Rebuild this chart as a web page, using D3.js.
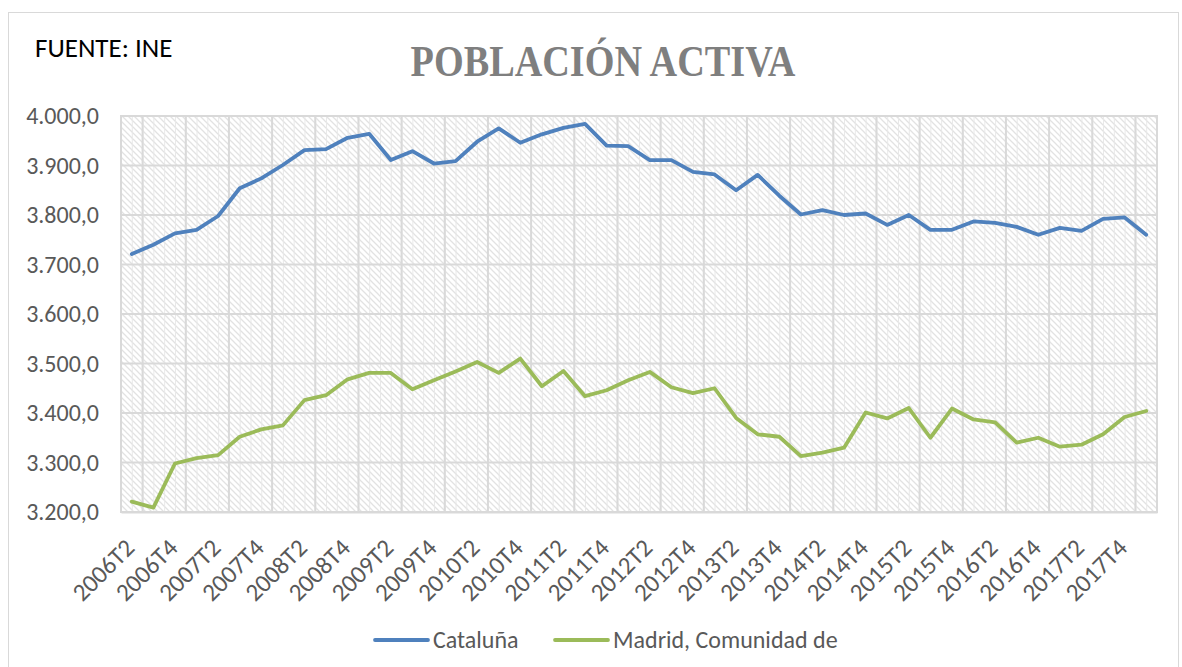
<!DOCTYPE html>
<html>
<head>
<meta charset="utf-8">
<script src="https://cdn.jsdelivr.net/npm/d3@7"></script>
<style>
  html, body { margin: 0; padding: 0; background: #fff; }
  svg { display: block; }
</style>
</head>
<body>
<svg id="chart" width="1182" height="667"></svg>
<script>
// ---------------- DATA ----------------
const quarters = [
  "2006T2","2006T3","2006T4",
  "2007T1","2007T2","2007T3","2007T4",
  "2008T1","2008T2","2008T3","2008T4",
  "2009T1","2009T2","2009T3","2009T4",
  "2010T1","2010T2","2010T3","2010T4",
  "2011T1","2011T2","2011T3","2011T4",
  "2012T1","2012T2","2012T3","2012T4",
  "2013T1","2013T2","2013T3","2013T4",
  "2014T1","2014T2","2014T3","2014T4",
  "2015T1","2015T2","2015T3","2015T4",
  "2016T1","2016T2","2016T3","2016T4",
  "2017T1","2017T2","2017T3","2017T4",
  "2018T1"
];
const cataluna = [
  3721, 3740, 3763,
  3770, 3798, 3854, 3874,
  3901, 3931, 3933, 3956,
  3964, 3911, 3929, 3904,
  3909, 3948, 3975, 3946,
  3963, 3976, 3984, 3940,
  3939, 3911, 3911, 3887,
  3882, 3850, 3881, 3839,
  3801, 3810, 3800, 3803,
  3780, 3800, 3770, 3770,
  3787, 3784, 3776, 3760,
  3774, 3768, 3792, 3795,
  3760
];
const madrid = [
  3221, 3209, 3298,
  3309, 3315, 3352, 3367,
  3375, 3426, 3436, 3468,
  3481, 3481, 3448, 3466,
  3484, 3503, 3481, 3510,
  3454, 3485, 3434, 3446,
  3466, 3483, 3452, 3440,
  3450, 3390, 3357, 3352,
  3313, 3320, 3330, 3401,
  3389, 3410, 3350, 3409,
  3387, 3381, 3340, 3350,
  3332, 3336, 3357, 3392,
  3404
];
const yTicks = [3200, 3300, 3400, 3500, 3600, 3700, 3800, 3900, 4000];
const seriesNames = ["Cataluña", "Madrid, Comunidad de"];
const seriesColors = ["#4f81bd", "#9bbb59"];
const titleText = "POBLACIÓN ACTIVA";
const sourceText = "FUENTE: INE";

// ---------------- LAYOUT ----------------
const svg = d3.select("#chart");
const plot = { left: 121, right: 1157, top: 116, bottom: 512 };
const fontSans = "Carlito, Calibri, 'Liberation Sans', Arial, sans-serif";

// chart outer border
svg.append("rect")
  .attr("x", 8.5).attr("y", 12.5)
  .attr("width", 1182 - 8 - 4).attr("height", 700)
  .attr("fill", "#fff").attr("stroke", "#d9d9d9").attr("stroke-width", 1);

const x = d3.scaleBand().domain(quarters).range([plot.left, plot.right]).paddingInner(0).paddingOuter(0);
const y = d3.scaleLinear().domain([3200, 4000]).range([plot.bottom, plot.top]);
const cx = d => x(d) + x.bandwidth() / 2;

// patterns
const defs = svg.append("defs");
const diag = defs.append("pattern")
  .attr("id", "diag").attr("patternUnits", "userSpaceOnUse")
  .attr("width", 6).attr("height", 6);
diag.append("path").attr("d", "M-1,-1 L7,7 M-1,5 L1,7 M5,-1 L7,1")
  .attr("stroke", "#e2e2e2").attr("stroke-width", 1.3);
const vert = defs.append("pattern")
  .attr("id", "vert").attr("patternUnits", "userSpaceOnUse")
  .attr("x", plot.left).attr("y", 0)
  .attr("width", x.bandwidth() / 2).attr("height", 10);
vert.append("line").attr("x1", 0.5).attr("x2", 0.5).attr("y1", 0).attr("y2", 10)
  .attr("stroke", "#e8e8e8").attr("stroke-width", 1);

const pw = plot.right - plot.left, ph = plot.bottom - plot.top;
svg.append("rect").attr("x", plot.left).attr("y", plot.top).attr("width", pw).attr("height", ph)
  .attr("fill", "url(#diag)");
svg.append("rect").attr("x", plot.left).attr("y", plot.top).attr("width", pw).attr("height", ph)
  .attr("fill", "url(#vert)");

// horizontal gridlines
svg.append("g").selectAll("line").data(yTicks).join("line")
  .attr("x1", plot.left).attr("x2", plot.right)
  .attr("y1", d => y(d)).attr("y2", d => y(d))
  .attr("stroke", "#d9d9d9").attr("stroke-width", 2);

// vertical major gridlines at odd category boundaries
const boundaries = quarters.map((q, i) => i).filter(i => i % 2 === 1);
svg.append("g").selectAll("line").data(boundaries).join("line")
  .attr("x1", i => x(quarters[i])).attr("x2", i => x(quarters[i]))
  .attr("y1", plot.top).attr("y2", plot.bottom)
  .attr("stroke", "#d9d9d9").attr("stroke-width", 2);

// plot border
svg.append("rect").attr("x", plot.left).attr("y", plot.top).attr("width", pw).attr("height", ph)
  .attr("fill", "none").attr("stroke", "#d9d9d9").attr("stroke-width", 2);

// Y axis labels
const yAxis = d3.axisLeft(y).tickValues(yTicks).tickSize(0).tickPadding(22)
  .tickFormat(d => d3.format(",.1f")(d).replace(/,/g, "#").replace(".", ",").replace(/#/g, "."));
const gy = svg.append("g").attr("transform", `translate(${plot.left},0)`).call(yAxis);
gy.select(".domain").remove();
gy.selectAll("text").attr("font-family", fontSans).attr("font-size", 24).attr("fill", "#595959");

// X axis labels
const xAxis = d3.axisBottom(x).tickValues(quarters.filter((q, i) => i % 2 === 0)).tickSize(0).tickPadding(0);
const gx = svg.append("g").attr("transform", `translate(0,${plot.bottom})`).call(xAxis);
gx.select(".domain").attr("stroke", "#d9d9d9").attr("stroke-width", 2);
gx.selectAll("text")
  .attr("font-family", fontSans).attr("font-size", 25).attr("fill", "#595959")
  .attr("text-anchor", "end").attr("dy", "0.35em").attr("y", 0)
  .attr("transform", "translate(-2,31) rotate(-45)");

// lines
const line = d3.line().x((d, i) => cx(quarters[i])).y(d => y(d));
[cataluna, madrid].forEach((s, k) => {
  svg.append("path").datum(s).attr("d", line)
    .attr("fill", "none").attr("stroke", seriesColors[k])
    .attr("stroke-width", 3.8).attr("stroke-linejoin", "round").attr("stroke-linecap", "round");
});

// title & source
svg.append("text").attr("transform", "translate(603,76) scale(0.85,1)").attr("text-anchor", "middle")
  .attr("font-family", "'Liberation Serif', 'DejaVu Serif', serif").attr("font-weight", "bold")
  .attr("font-size", 45).attr("fill", "#7f7f7f").text(titleText);
svg.append("text").attr("x", 35).attr("y", 57)
  .attr("font-family", fontSans).attr("font-size", 27).attr("fill", "#000").text(sourceText);

// legend
const legendItems = [
  { name: seriesNames[0], color: seriesColors[0], x0: 375 },
  { name: seriesNames[1], color: seriesColors[1], x0: 555 }
];
const lg = svg.append("g");
legendItems.forEach(it => {
  lg.append("line").attr("x1", it.x0).attr("x2", it.x0 + 53).attr("y1", 640).attr("y2", 640)
    .attr("stroke", it.color).attr("stroke-width", 3.8).attr("stroke-linecap", "round");
  lg.append("text").attr("x", it.x0 + 58).attr("y", 648)
    .attr("font-family", fontSans).attr("font-size", 24).attr("fill", "#595959").text(it.name);
});
</script>
</body>
</html>
